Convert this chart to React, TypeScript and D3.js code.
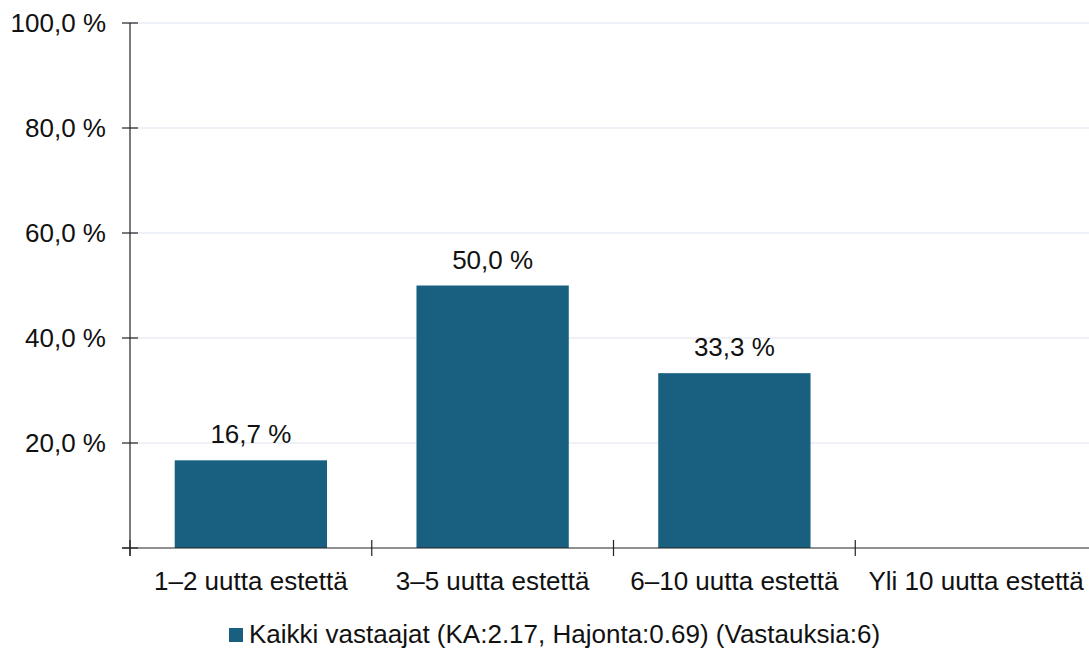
import React from "react";
import * as d3 from "d3";

const categories = ["1–2 uutta estettä", "3–5 uutta estettä", "6–10 uutta estettä", "Yli 10 uutta estettä"];
const values = [16.7, 50.0, 33.3, 0];
const yTicks = [0, 20, 40, 60, 80, 100];
const legendLabel = "Kaikki vastaajat (KA:2.17, Hajonta:0.69) (Vastauksia:6)";

const W = 1089, H = 651;
const left = 130, top = 23, bottom = 548, right = 1097;
const font = "'Liberation Sans', Arial, sans-serif";
const barColor = "#185f80";
const fs = 26;

const fmt = (v: number) => v.toFixed(1).replace(".", ",") + " %";

export default function App() {
  const x = d3.scaleBand<string>().domain(categories).range([left, right]).paddingInner(0).paddingOuter(0);
  const y = d3.scaleLinear().domain([0, 100]).range([bottom, top]);
  const bw = x.bandwidth() * 0.63;
  return (
    <svg width={W} height={H} style={{ position: "absolute", left: 0, top: 0 }} fontFamily={font}>
      <rect width={W} height={H} fill="#fff" />
      {yTicks.filter(t => t > 0).map(t => (
        <line key={"g" + t} x1={left} x2={W} y1={y(t)} y2={y(t)} stroke="#dde5f0" strokeWidth={1} />
      ))}
      {values.map((v, i) => v > 0 && (
        <g key={"b" + i}>
          <rect x={x(categories[i])! + (x.bandwidth() - bw) / 2} y={y(v)} width={bw} height={y(0) - y(v)} fill={barColor} />
          <text x={x(categories[i])! + x.bandwidth() / 2} y={y(v) - 17} textAnchor="middle" fontSize={fs} fill="#111">{fmt(v)}</text>
        </g>
      ))}
      <line x1={left} x2={left} y1={top} y2={bottom + 8} stroke="#222" strokeWidth={1.2} />
      <line x1={left - 8} x2={W} y1={bottom} y2={bottom} stroke="#222" strokeWidth={1.2} />
      {yTicks.map(t => (
        <g key={"t" + t}>
          <line x1={left - 8} x2={left + 8} y1={y(t)} y2={y(t)} stroke="#222" strokeWidth={1.2} />
          {t > 0 && <text x={106} y={y(t)} dy="0.35em" textAnchor="end" fontSize={fs} fill="#111">{fmt(t)}</text>}
        </g>
      ))}
      {categories.map((c, i) => (
        <g key={"c" + i}>
          <line x1={x(c)!} x2={x(c)!} y1={bottom - 8} y2={bottom + 8} stroke="#222" strokeWidth={1.2} />
          <text x={x(c)! + x.bandwidth() / 2} y={590} textAnchor="middle" fontSize={fs} fill="#111">{c}</text>
        </g>
      ))}
      <rect x={229} y={628} width={14} height={14} fill={barColor} />
      <text x={249} y={643} fontSize={fs} fill="#111">{legendLabel}</text>
    </svg>
  );
}
